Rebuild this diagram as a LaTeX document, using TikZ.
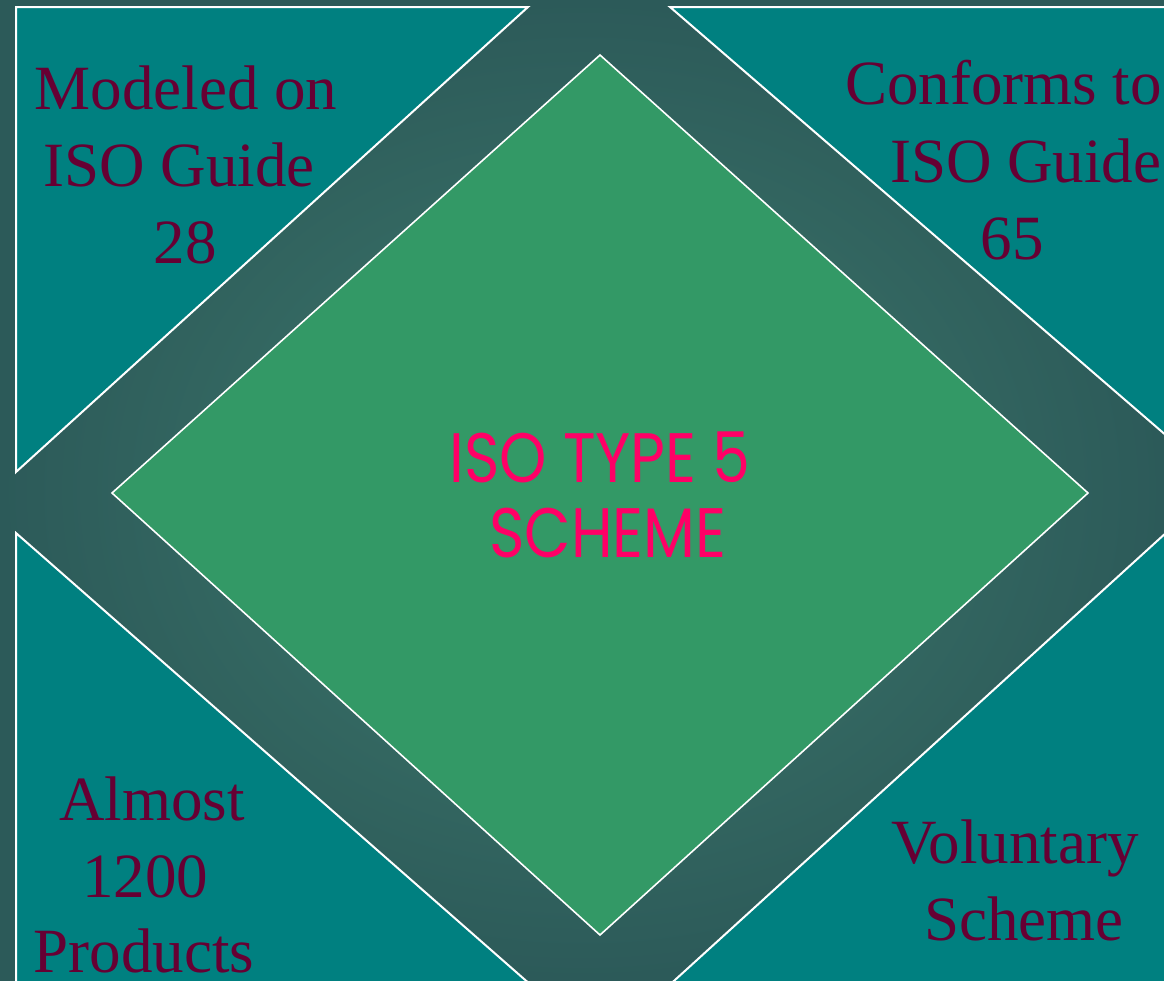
\documentclass[tikz,border=0pt]{standalone}
\usepackage{fontspec}
\setmainfont{Liberation Serif}
\newfontfamily\geofont[FakeStretch=0.86]{Poppins}
\definecolor{bandin}{HTML}{3F7B6D}
\definecolor{bandout}{HTML}{2C5A59}
\definecolor{tealc}{HTML}{008080}
\definecolor{diamc}{HTML}{339966}
\definecolor{maroonc}{HTML}{660033}
\definecolor{pinkc}{HTML}{FF0066}
\tikzset{
  corner/.style={fill=tealc, draw=white, line width=2pt, line join=miter},
  centre/.style={fill=diamc, draw=white, line width=1.6pt, line join=miter},
  lbl/.style={text=maroonc, font=\fontsize{63}{77}\selectfont, inner sep=0pt, anchor=base},
  mid/.style={text=pinkc, font=\geofont\fontsize{70}{75}\selectfont, inner sep=0pt, anchor=base}
}
\begin{document}
\begin{tikzpicture}[x=1pt,y=-1pt]
\useasboundingbox (0,0) rectangle (1164,980);
\shade[inner color=bandin, outer color=bandout] (0,0) rectangle (1164,980);
% corner triangles
\draw[corner] (16,7) -- (528,7) -- (16,472) -- cycle;
\draw[corner] (670,7) -- (1190,7) -- (1190,456) -- cycle;
\draw[corner] (16,533) -- (16,1000) -- (548,1000) -- cycle;
\draw[corner] (1190,511) -- (1190,1000) -- (653,1000) -- cycle;
% central diamond
\draw[centre] (600,55) coordinate (dT) -- (1088,493) coordinate (dR) -- (600,935) coordinate (dB) -- (112,493) coordinate (dL) -- cycle;
% texts
\node[lbl] (tl1) at (186,109) {Modeled on};
\node[lbl] (tl2) at (179,186) {ISO Guide};
\node[lbl] (tl3) at (185,263) {28};
\node[lbl, anchor=base west] (tr1) at (845,104) {Conforms to};
\node[lbl, anchor=base west] (tr2) at (890,182) {ISO Guide};
\node[lbl] (tr3) at (1012,259) {65};
\node[lbl] (bl1) at (152,820) {Almost};
\node[lbl] (bl2) at (145,897) {1200};
\node[lbl] (bl3) at (144,972) {Products};
\node[lbl] (br1) at (1015,863) {Voluntary};
\node[lbl] (br2) at (1024,940) {Scheme};
\node[mid] (c1) at (600,482) {ISO TYPE 5};
\node[mid] (c2) at (608,557) {SCHEME};
\end{tikzpicture}
\end{document}
